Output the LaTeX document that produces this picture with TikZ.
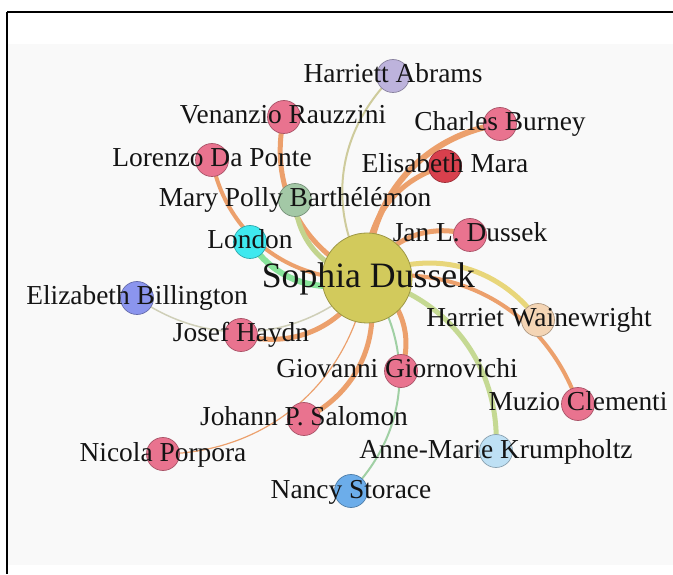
\documentclass[tikz,border=0pt]{standalone}
\usepackage{fontspec}
\setmainfont{Liberation Serif}
\pgfdeclarelayer{paperlayer}
\pgfdeclarelayer{linklayer}
\pgfsetlayers{paperlayer,linklayer,main}

% node fills
\definecolor{hubc}{HTML}{D2CA5C}
\definecolor{pinkc}{HTML}{E9738F}
\definecolor{lavc}{HTML}{BDB3DC}
\definecolor{redc}{HTML}{D8404D}
\definecolor{sagec}{HTML}{A3C8A6}
\definecolor{cyanc}{HTML}{3FE9EF}
\definecolor{perc}{HTML}{8B95EE}
\definecolor{peachc}{HTML}{F4D5B5}
\definecolor{skyc}{HTML}{BEE0F4}
\definecolor{bluec}{HTML}{6CADEA}
% link colours
\definecolor{orng}{HTML}{ECA06C}
\definecolor{khaki}{HTML}{CECB9C}
\definecolor{olivegr}{HTML}{C2D48E}
\definecolor{mint}{HTML}{88E39A}
\definecolor{yel}{HTML}{E8D67A}
\definecolor{pale}{HTML}{C5D993}
\definecolor{seag}{HTML}{A0D0A4}
\definecolor{ash}{HTML}{CFCFB8}
\definecolor{paper}{HTML}{F9F9F9}

\begin{document}
\begin{tikzpicture}[x=1pt,y=1pt,
  person/.style={circle, inner sep=0pt, minimum size=33pt,
                 draw=#1!72!black, fill=#1, line width=0.7pt},
  hub/.style={circle, inner sep=0pt, minimum size=90pt,
              draw=#1!75!black, fill=#1, line width=0.8pt},
  lbl/.style={anchor=base, inner sep=0pt, text=black!92,
              font=\fontsize{27.4}{30}\selectfont},
  hublbl/.style={anchor=base, inner sep=0pt, text=black!92,
                 font=\fontsize{35.7}{40}\selectfont},
  tie/.style={draw=#1},
]
\useasboundingbox (0,0) rectangle (673,574);

% panel and frame
\begin{pgfonlayer}{paperlayer}
  \fill[paper] (8,9) rectangle (673,530);
  \draw[line width=2pt] (7,562) -- (673,562);
  \draw[line width=1.4pt] (7,562) -- (7,0);
\end{pgfonlayer}

% people
\node[hub=hubc]     (sophia)      at (367,296) {};
\node[person=lavc]  (abrams)      at (393,498) {};
\node[person=pinkc] (rauzzini)    at (284,457) {};
\node[person=pinkc] (burney)      at (500,450) {};
\node[person=pinkc] (daponte)     at (212,414) {};
\node[person=redc]  (mara)        at (445,408) {};
\node[person=sagec] (polly)       at (295,374) {};
\node[person=cyanc] (london)      at (250,332) {};
\node[person=pinkc] (jan)         at (470,339) {};
\node[person=perc]  (billington)  at (137,276) {};
\node[person=pinkc] (haydn)       at (241,239) {};
\node[person=peachc](wainewright) at (538,254) {};
\node[person=pinkc] (giornovichi) at (401,203) {};
\node[person=pinkc] (clementi)    at (578,170) {};
\node[person=skyc]  (krumpholtz)  at (496,123) {};
\node[person=bluec] (storace)     at (351,83)  {};
\node[person=pinkc] (salomon)     at (304,155) {};
\node[person=pinkc] (porpora)     at (163,120) {};

% names
\node[hublbl] (sophia-t) at ([xshift=1.5pt,yshift=-10pt]sophia.center) {Sophia Dussek};
\node[lbl] (abrams-t)      at ([yshift=-7pt]abrams.center)      {Harriett Abrams};
\node[lbl] (rauzzini-t)    at ([xshift=-1pt,yshift=-7pt]rauzzini.center) {Venanzio Rauzzini};
\node[lbl] (burney-t)      at ([yshift=-7pt]burney.center)      {Charles Burney};
\node[lbl] (daponte-t)     at ([yshift=-7pt]daponte.center)     {Lorenzo Da Ponte};
\node[lbl] (mara-t)        at ([yshift=-7pt]mara.center)        {Elisabeth Mara};
\node[lbl] (polly-t)       at ([yshift=-7pt]polly.center)       {Mary Polly Barthélémon};
\node[lbl] (london-t)      at ([yshift=-7pt]london.center)      {London};
\node[lbl] (jan-t)         at ([yshift=-7pt]jan.center)         {Jan L. Dussek};
\node[lbl] (billington-t)  at ([yshift=-7pt]billington.center)  {Elizabeth Billington};
\node[lbl] (haydn-t)       at ([yshift=-7pt]haydn.center)       {Josef Haydn};
\node[lbl] (wainewright-t) at ([xshift=1pt,yshift=-7pt]wainewright.center) {Harriet Wainewright};
\node[lbl] (giornovichi-t) at ([xshift=-4pt,yshift=-7pt]giornovichi.center) {Giovanni Giornovichi};
\node[lbl] (clementi-t)    at ([yshift=-7pt]clementi.center)    {Muzio Clementi};
\node[lbl] (krumpholtz-t)  at ([yshift=-7pt]krumpholtz.center)  {Anne-Marie Krumpholtz};
\node[lbl] (storace-t)     at ([yshift=-7pt]storace.center)     {Nancy Storace};
\node[lbl] (salomon-t)     at ([yshift=-7pt]salomon.center)     {Johann P. Salomon};
\node[lbl] (porpora-t)     at ([yshift=-7pt]porpora.center)     {Nicola Porpora};

% links, all arcs leaving the hub clockwise
\begin{pgfonlayer}{linklayer}
  \draw[tie=khaki,  line width=2pt]   (sophia.center) to[bend left=38] (abrams.center);
  \draw[tie=orng,   line width=5pt]   (sophia.center) to[bend left=40] (rauzzini.center);
  \draw[tie=orng,   line width=6pt]   (sophia.center) to[bend left=40] (burney.center);
  \draw[tie=orng,   line width=4pt]   (sophia.center) to[bend left=42] (daponte.center);
  \draw[tie=orng,   line width=5pt]   (sophia.center) to[bend left=40] (mara.center);
  \draw[tie=olivegr,line width=5pt]   (sophia.center) to[bend left=40] (polly.center);
  \draw[tie=mint,   line width=6pt]   (sophia.center) to[bend left=40] (london.center);
  \draw[tie=orng,   line width=5pt]   (sophia.center) to[bend left=40] (jan.center);
  \draw[tie=ash,    line width=1.5pt] (sophia.center) to[bend left=40] (billington.center);
  \draw[tie=orng,   line width=5pt]   (sophia.center) to[bend left=40] (haydn.center);
  \draw[tie=yel,    line width=5pt]   (sophia.center) to[bend left=40] (wainewright.center);
  \draw[tie=orng,   line width=5pt]   (sophia.center) to[bend left=40] (giornovichi.center);
  \draw[tie=orng,   line width=4pt]   (sophia.center) to[bend left=40] (clementi.center);
  \draw[tie=pale,   line width=5pt]   (sophia.center) to[bend left=40] (krumpholtz.center);
  \draw[tie=seag,   line width=2pt]   (sophia.center) to[bend left=40] (storace.center);
  \draw[tie=orng,   line width=5pt]   (sophia.center) to[bend left=40] (salomon.center);
  \draw[tie=orng,   line width=1.2pt] (sophia.center) to[bend left=40] (porpora.center);
\end{pgfonlayer}
\end{tikzpicture}
\end{document}
